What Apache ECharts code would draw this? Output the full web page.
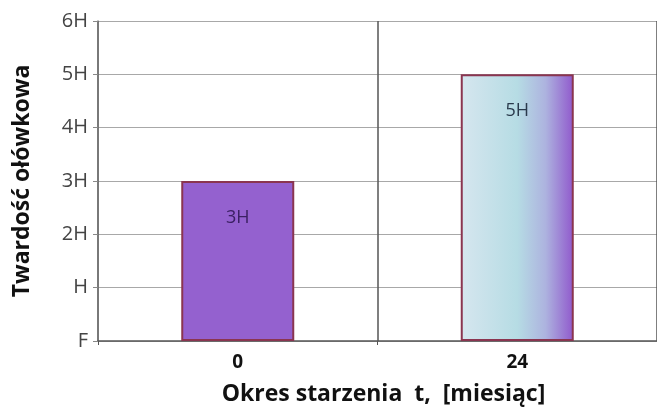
<!DOCTYPE html>
<html>
<head>
<meta charset="utf-8">
<script src="https://cdn.jsdelivr.net/npm/echarts@6/dist/echarts.min.js"></script>
<style>
  html, body { margin: 0; padding: 0; background: #fff; }
  #chart { width: 657px; height: 410px; }
</style>
</head>
<body>
<div id="chart"></div>
<script>
// Ageing period (months) and pencil hardness reached after each period
var categories = ['0', '24'];
var hardnessValues = [3, 5];
var hardnessLabels = ['F', 'H', '2H', '3H', '4H', '5H', '6H'];

var chart = echarts.init(document.getElementById('chart'));

var fontFamily = '"Open Sans", Lato, sans-serif';

var barStyles = [
  { color: '#9461cf', borderColor: '#8a3550', borderWidth: 2 },
  {
    color: new echarts.graphic.LinearGradient(0, 0, 1, 0, [
      { offset: 0, color: '#d6e6ef' },
      { offset: 0.5, color: '#b6dce4' },
      { offset: 0.75, color: '#adb3df' },
      { offset: 1, color: '#9058cc' }
    ]),
    borderColor: '#8a3550',
    borderWidth: 2
  }
];
var labelColors = ['#3b2063', '#2a3a4c'];

chart.setOption({
  backgroundColor: '#ffffff',
  animation: false,
  grid: { left: 98, right: 0, top: 21, bottom: 69, outerBoundsMode: 'none', containLabel: false },
  xAxis: {
    type: 'category',
    data: categories,
    name: 'Okres starzenia  t,  [miesiąc]',
    nameLocation: 'middle',
    nameGap: 42,
    nameTextStyle: { fontFamily: fontFamily, fontSize: 23, fontWeight: 'bold', color: '#111', padding: [0, 0, 0, 12] },
    axisLine: { lineStyle: { color: '#555', width: 1.5 } },
    axisTick: { show: true, length: 4, lineStyle: { color: '#555' } },
    axisLabel: { fontFamily: fontFamily, fontSize: 19, fontWeight: 'bold', color: '#111', margin: 12 },
    splitLine: { show: true, lineStyle: { color: '#555', width: 1.5 } }
  },
  yAxis: {
    type: 'value',
    min: 0,
    max: 6,
    interval: 1,
    name: 'Twardość ołówkowa',
    nameLocation: 'middle',
    nameGap: 64,
    nameTextStyle: { fontFamily: fontFamily, fontSize: 23, fontWeight: 'bold', color: '#111' },
    axisLine: { show: true, lineStyle: { color: '#777', width: 1.5 } },
    axisTick: { show: true, length: 5, lineStyle: { color: '#888' } },
    axisLabel: {
      fontFamily: fontFamily, fontSize: 20, color: '#444', margin: 10,
      formatter: function (v) { return hardnessLabels[v]; }
    },
    splitLine: { show: true, lineStyle: { color: '#a8a8a8', width: 1 } }
  },
  series: [{
    type: 'bar',
    barWidth: 113,
    data: hardnessValues.map(function (v, i) {
      return {
        value: v,
        itemStyle: barStyles[i],
        label: { color: labelColors[i] }
      };
    }),
    label: {
      show: true,
      position: 'insideTop',
      distance: 28,
      fontFamily: fontFamily,
      fontSize: 18,
      formatter: function (p) { return hardnessLabels[p.value]; }
    }
  }]
});
</script>
</body>
</html>
